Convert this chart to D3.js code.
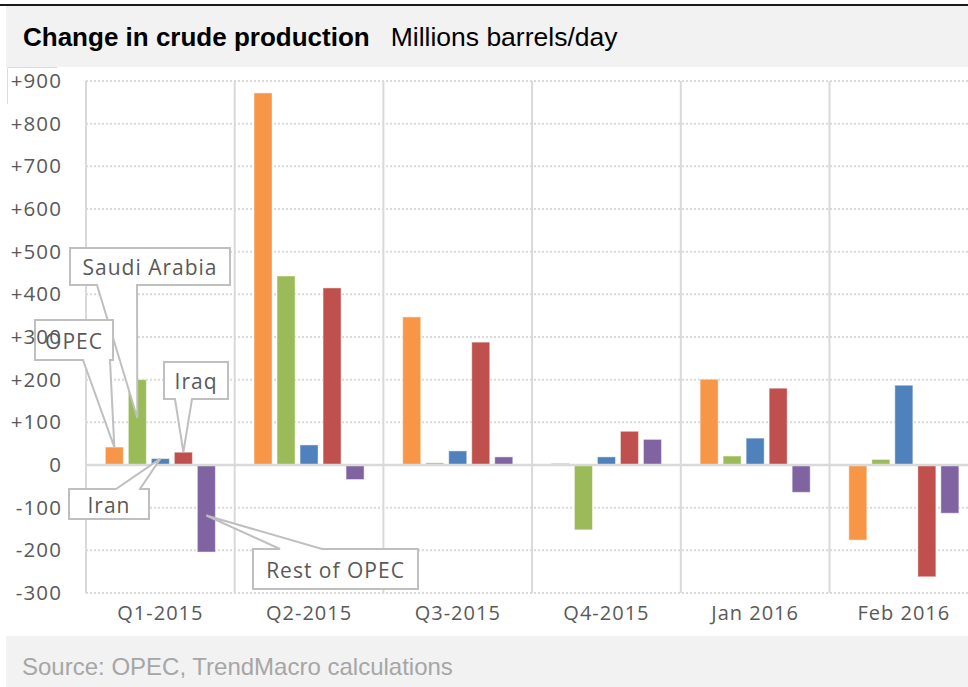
<!DOCTYPE html>
<html>
<head>
<meta charset="utf-8">
<script src="https://cdn.jsdelivr.net/npm/d3@7"></script>
<style>
  html, body { margin: 0; padding: 0; background: #fff; }
  svg { display: block; }
</style>
</head>
<body>
<div class="chart"></div>
<script>
const width = 968;
const height = 687;

// data (thousand barrels/day change)
const categories = ['Q1-2015', 'Q2-2015', 'Q3-2015', 'Q4-2015', 'Jan 2016', 'Feb 2016'];
const seriesNames = ['OPEC', 'Saudi Arabia', 'Iran', 'Iraq', 'Rest of OPEC'];
const opec = [42, 872, 347, 4, 201, -176];
const saudiArabia = [200, 443, 5, -152, 21, 13];
const iran = [15, 47, 33, 19, 63, 187];
const iraq = [30, 415, 288, 79, 180, -262];
const restOfOpec = [-204, -34, 19, 60, -64, -113];
const yTicks = [-300, -200, -100, 0, 100, 200, 300, 400, 500, 600, 700, 800, 900];
const colors = ['#F79646', '#9BBB59', '#4F81BD', '#C0504D', '#8064A2'];

const values = [opec, saudiArabia, iran, iraq, restOfOpec];

// callout boxes (series, category, where the pointer hits along the bar)
const callouts = [
    {series: 'Saudi Arabia', cat: 'Q1-2015', frac: 0.55, box: [70, 248, 230, 285], side: 'bottom', base: [97, 137]},
    {series: 'OPEC', cat: 'Q1-2015', frac: 1, box: [35, 320, 113, 360], side: 'bottom', base: [83, 110]},
    {series: 'Iraq', cat: 'Q1-2015', frac: 1, box: [164, 362, 228, 399], side: 'bottom', base: [175, 192]},
    {series: 'Iran', cat: 'Q1-2015', frac: 1, box: [69, 489, 149, 519], side: 'top', base: [116, 140]},
    {series: 'Rest of OPEC', cat: 'Q1-2015', frac: 0.58, box: [253, 549, 418, 589], side: 'top', base: [280, 322]}
];

const svg = d3.select('.chart').append('svg')
    .attr('width', width)
    .attr('height', height);

/*      header / footer bands      */
svg.append('rect').attr('x', 0).attr('y', 4).attr('width', width).attr('height', 2).attr('fill', '#1a1a1a');
svg.append('rect').attr('x', 6).attr('y', 6).attr('width', width - 6).attr('height', 61).attr('fill', '#f2f2f2');
svg.append('rect').attr('x', 6).attr('y', 636).attr('width', width - 6).attr('height', 51).attr('fill', '#f2f2f2');
svg.append('path').attr('d', 'M57,67.5H7.5V104').attr('fill', 'none').attr('stroke', '#dcdcdc').attr('stroke-width', 1);

const title = svg.append('text')
    .attr('x', 23).attr('y', 46)
    .attr('font-family', '"Liberation Sans", Arial, sans-serif')
    .attr('font-size', 26)
    .attr('fill', '#000');
title.append('tspan').attr('font-weight', 'bold').text('Change in crude production');
title.append('tspan').attr('dx', 21).attr('font-size', 26.5).text('Millions barrels/day');

svg.append('text')
    .attr('x', 22).attr('y', 675)
    .attr('font-family', '"Liberation Sans", Arial, sans-serif')
    .attr('font-size', 24)
    .attr('fill', '#a6a6a6')
    .text('Source: OPEC, TrendMacro calculations');

/*      scales      */
const left = 86;
const catStep = 148.7;
const xScale = d3.scaleBand()
    .domain(categories)
    .range([left, left + catStep * categories.length]);
const xInner = d3.scaleBand()
    .domain(seriesNames)
    .range([0, xScale.bandwidth()])
    .paddingInner(0.217)
    .paddingOuter(0.84);
const yScale = d3.scaleLinear()
    .domain([-300, 900])
    .range([593, 81]);

/*      dotted grid      */
svg.append('g')
    .selectAll('line')
    .data(yTicks.filter(d => d !== 0))
    .enter()
    .append('line')
    .attr('x1', left).attr('x2', width)
    .attr('y1', d => yScale(d)).attr('y2', d => yScale(d))
    .attr('stroke', '#d9d9d9')
    .attr('stroke-width', 2)
    .attr('stroke-dasharray', '2,2');

/*      category separators      */
svg.append('g')
    .selectAll('line')
    .data(categories)
    .enter()
    .append('line')
    .attr('x1', d => xScale(d)).attr('x2', d => xScale(d))
    .attr('y1', yScale(900)).attr('y2', yScale(-300))
    .attr('stroke', '#d9d9d9')
    .attr('stroke-width', 2);

/*      bars      */
const barGroups = svg.append('g')
    .selectAll('g')
    .data(seriesNames)
    .enter()
    .append('g')
    .attr('fill', (d, i) => colors[i]);
barGroups.selectAll('rect')
    .data((s, i) => values[i].map((v, j) => ({series: s, cat: categories[j], value: v})))
    .enter()
    .append('rect')
    .attr('x', d => xScale(d.cat) + xInner(d.series))
    .attr('width', xInner.bandwidth())
    .attr('y', d => yScale(Math.max(0, d.value)))
    .attr('height', d => Math.abs(yScale(d.value) - yScale(0)))
    .attr('stroke', 'rgba(255,255,255,0.45)')
    .attr('stroke-width', 1);

/*      zero line      */
svg.append('line')
    .attr('x1', left).attr('x2', width)
    .attr('y1', yScale(0)).attr('y2', yScale(0))
    .attr('stroke', '#d9d9d9')
    .attr('stroke-width', 2.5);

/*      callouts      */
function calloutPath(c) {
    const [x0, y0, x1, y1] = c.box;
    const si = seriesNames.indexOf(c.series);
    const v = values[si][categories.indexOf(c.cat)];
    const tx = xScale(c.cat) + xInner(c.series) + xInner.bandwidth() / 2;
    const ty = yScale(v * c.frac);
    const [a, b] = c.base;
    if (c.side === 'top') {
        return `M${x0},${y0}L${a},${y0}L${tx},${ty}L${b},${y0}L${x1},${y0}L${x1},${y1}L${x0},${y1}Z`;
    }
    return `M${x0},${y0}L${x1},${y0}L${x1},${y1}L${b},${y1}L${tx},${ty}L${a},${y1}L${x0},${y1}Z`;
}
const cg = svg.append('g')
    .selectAll('g')
    .data(callouts)
    .enter()
    .append('g');
cg.append('path')
    .attr('d', calloutPath)
    .attr('fill', '#fff')
    .attr('stroke', '#bfbfbf')
    .attr('stroke-width', 2)
    .attr('stroke-linejoin', 'miter');
cg.append('text')
    .attr('x', d => (d.box[0] + d.box[2]) / 2)
    .attr('y', d => (d.box[1] + d.box[3]) / 2 + 1)
    .attr('dy', '0.36em')
    .attr('text-anchor', 'middle')
    .attr('font-family', '"Open Sans", sans-serif')
    .attr('font-size', 21)
    .attr('letter-spacing', 1)
    .attr('fill', '#595959')
    .text(d => d.series);

/*      y axis labels      */
const yAxis = d3.axisLeft(yScale)
    .tickValues(yTicks)
    .tickSize(0)
    .tickPadding(0)
    .tickFormat(d => d > 0 ? '+' + d : String(d));
const yg = svg.append('g')
    .attr('transform', 'translate(62,0)')
    .call(yAxis);
yg.select('.domain').remove();
yg.selectAll('text')
    .attr('font-family', '"Open Sans", sans-serif')
    .attr('font-size', 20.5)
    .attr('letter-spacing', 1.1)
    .attr('fill', '#595959');

/*      x axis labels      */
const xg = svg.append('g')
    .attr('transform', 'translate(0,606)')
    .call(d3.axisBottom(xScale).tickSize(0).tickPadding(0));
xg.select('.domain').remove();
xg.selectAll('text')
    .attr('font-family', '"Open Sans", sans-serif')
    .attr('font-size', 20)
    .attr('letter-spacing', 1)
    .attr('fill', '#595959');
</script>
</body>
</html>
